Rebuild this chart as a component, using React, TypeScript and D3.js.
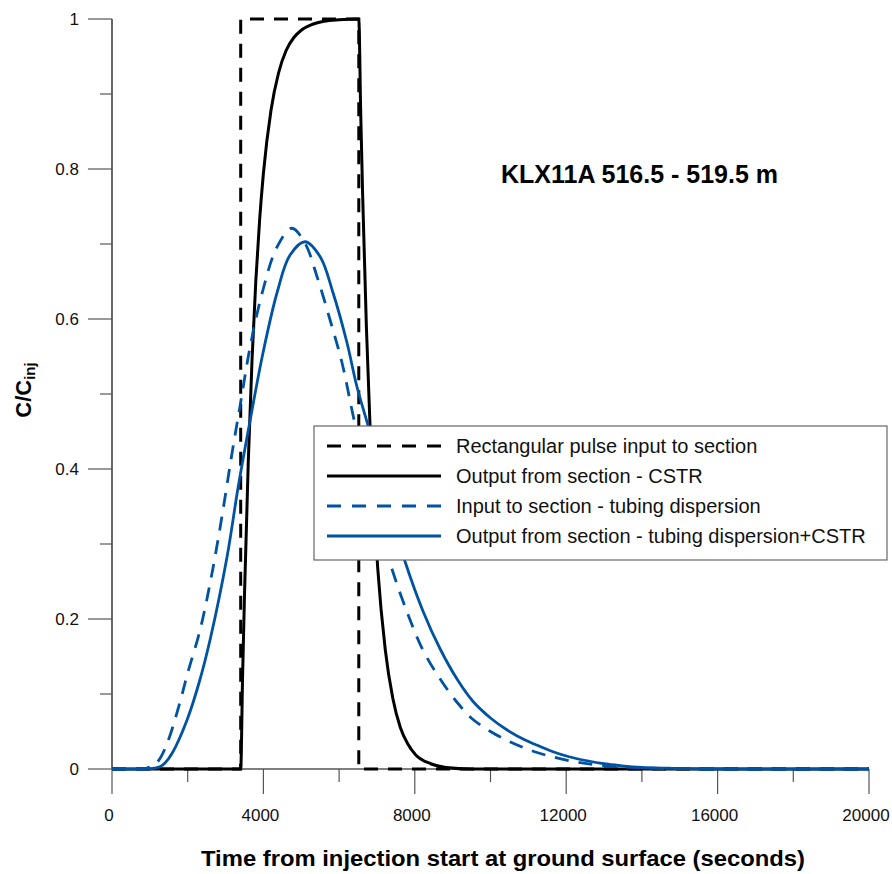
import React from "react";
import * as d3 from "d3";

const pulseT = [0, 3400, 3400, 6520, 6520, 20000];
const pulseC = [0, 0, 1, 1, 0, 0];

const cstrT = [0, 3400, 3450, 3500, 3600, 3700, 3800, 3900, 4000, 4200, 4400, 4600, 4800, 5000, 5300, 5600, 6000, 6520, 6570, 6620, 6720, 6820, 6920, 7020, 7220, 7420, 7620, 7820, 8020, 8420, 8820, 9500, 20000];
const cstrC = [0, 0, 0.123, 0.231, 0.409, 0.546, 0.651, 0.732, 0.794, 0.878, 0.928, 0.958, 0.975, 0.985, 0.993, 0.997, 0.999, 1.0, 0.877, 0.769, 0.591, 0.454, 0.349, 0.268, 0.159, 0.094, 0.055, 0.033, 0.019, 0.007, 0.002, 0, 0];

const tubeT = [0, 750, 900, 1100, 1268, 1500, 1800, 2000, 2325, 2600, 2850, 3200, 3380, 3650, 3990, 4360, 4750, 5100, 5420, 5760, 6080, 6380, 6700, 7000, 7345, 7790, 8220, 8670, 9115, 9540, 10000, 10440, 10850, 11230, 11650, 12290, 12970, 14000, 15500, 20000];
const tubeC = [0, 0, 0.001, 0.005, 0.014, 0.04, 0.09, 0.128, 0.185, 0.25, 0.32, 0.43, 0.483, 0.563, 0.639, 0.696, 0.721, 0.701, 0.656, 0.599, 0.541, 0.469, 0.4, 0.34, 0.275, 0.21, 0.158, 0.12, 0.089, 0.066, 0.05, 0.038, 0.029, 0.022, 0.016, 0.009, 0.0045, 0.0015, 0, 0];

const outT = [0, 950, 1100, 1268, 1400, 1600, 1980, 2300, 2590, 3040, 3330, 3650, 3990, 4360, 4700, 5100, 5500, 5840, 6210, 6470, 6770, 7100, 7400, 7740, 8220, 8670, 9115, 9540, 10000, 10440, 10900, 11310, 11650, 12100, 12550, 13000, 13420, 14000, 14740, 16000, 20000];
const outC = [0, 0, 0.001, 0.003, 0.008, 0.022, 0.065, 0.115, 0.172, 0.283, 0.375, 0.465, 0.555, 0.635, 0.685, 0.703, 0.683, 0.635, 0.568, 0.51, 0.457, 0.395, 0.335, 0.277, 0.21, 0.16, 0.12, 0.09, 0.068, 0.052, 0.039, 0.03, 0.023, 0.016, 0.011, 0.007, 0.0045, 0.002, 0.001, 0, 0];

const xMajor = [0, 4000, 8000, 12000, 16000, 20000];
const xMinor = [2000, 6000, 10000, 14000, 18000];
const yMajor = [0, 0.2, 0.4, 0.6, 0.8, 1];
const yMinor = [0.1, 0.3, 0.5, 0.7, 0.9];

const legendLabels = [
  "Rectangular pulse input to section",
  "Output from section - CSTR",
  "Input to section - tubing dispersion",
  "Output from section - tubing dispersion+CSTR",
];

const BLUE = "#0052a3";
const FONT = "'Liberation Sans', Arial, Helvetica, sans-serif";

export default function App() {
  const x = d3.scaleLinear().domain([0, 20000]).range([112, 869]);
  const y = d3.scaleLinear().domain([0, 1]).range([769, 19]);

  const mk = (ts: number[], cs: number[], curve: any) =>
    d3
      .line<number>()
      .x((_, i) => x(ts[i]))
      .y((c) => y(Math.max(0, c)))
      .curve(curve)(cs) || "";

  const smooth = d3.curveCatmullRom.alpha(0.5);

  const series = [
    { d: mk(pulseT, pulseC, d3.curveLinear), color: "#000", dash: "14,10", w: 3 },
    { d: mk(cstrT, cstrC, d3.curveMonotoneX), color: "#000", dash: undefined, w: 3 },
    { d: mk(tubeT, tubeC, smooth), color: BLUE, dash: "14,10", w: 2.8 },
    { d: mk(outT, outC, smooth), color: BLUE, dash: undefined, w: 2.8 },
  ];

  const legendStyles = [
    { color: "#000", dash: "14,11", w: 3 },
    { color: "#000", dash: undefined, w: 3 },
    { color: BLUE, dash: "14,11", w: 2.8 },
    { color: BLUE, dash: undefined, w: 2.8 },
  ];

  return (
    <div style={{ position: "absolute", left: 0, top: 0 }}>
      <svg width={892} height={874} style={{ display: "block", background: "#fff" }} fontFamily={FONT}>
        {/* axes */}
        <line x1={x(0)} x2={x(0)} y1={y(1)} y2={y(0)} stroke="#000" strokeWidth={1.2} />
        <line x1={x(0)} x2={x(20000)} y1={y(0)} y2={y(0)} stroke="#000" strokeWidth={1.2} />
        {yMajor.map((v) => (
          <g key={"ym" + v}>
            <line x1={88} x2={x(0)} y1={y(v)} y2={y(v)} stroke="#555" strokeWidth={1.2} />
            <text x={79} y={y(v) + 6} textAnchor="end" fontSize={17} fill="#111">
              {String(v)}
            </text>
          </g>
        ))}
        {yMinor.map((v) => (
          <line key={"yn" + v} x1={100} x2={x(0)} y1={y(v)} y2={y(v)} stroke="#555" strokeWidth={1.2} />
        ))}
        {xMajor.map((v) => (
          <g key={"xm" + v}>
            <line x1={x(v)} x2={x(v)} y1={y(0)} y2={794} stroke="#555" strokeWidth={1.2} />
            <text x={x(v) - 3} y={821} textAnchor="middle" fontSize={17} fill="#111">
              {String(v)}
            </text>
          </g>
        ))}
        {xMinor.map((v) => (
          <line key={"xn" + v} x1={x(v)} x2={x(v)} y1={y(0)} y2={782} stroke="#555" strokeWidth={1.2} />
        ))}

        {/* series */}
        {series.map((s, i) => (
          <path key={i} d={s.d} fill="none" stroke={s.color} strokeWidth={s.w} strokeDasharray={s.dash} />
        ))}

        {/* annotation */}
        <text x={501} y={183} fontSize={25} fontWeight="bold" fill="#000">
          KLX11A 516.5 - 519.5 m
        </text>

        {/* legend */}
        <rect x={314} y={426} width={573} height={134} fill="#fff" stroke="#666" strokeWidth={1.2} />
        {legendLabels.map((lab, i) => {
          const ly = 446 + i * 30;
          const st = legendStyles[i];
          return (
            <g key={lab}>
              <line x1={327} x2={441} y1={ly} y2={ly} stroke={st.color} strokeWidth={st.w} strokeDasharray={st.dash} />
              <text x={456} y={ly + 7} fontSize={20} fill="#111">
                {lab}
              </text>
            </g>
          );
        })}

        {/* axis titles */}
        <text x={503} y={866} textAnchor="middle" fontSize={22} fontWeight="bold" fill="#000" textLength={604} lengthAdjust="spacingAndGlyphs">
          Time from injection start at ground surface (seconds)
        </text>
        <text transform="translate(31,390) rotate(-90)" textAnchor="middle" fontWeight="bold" fill="#000">
          <tspan fontSize={22}>C/C</tspan>
          <tspan fontSize={15} dy={4}>inj</tspan>
        </text>
      </svg>
    </div>
  );
}
